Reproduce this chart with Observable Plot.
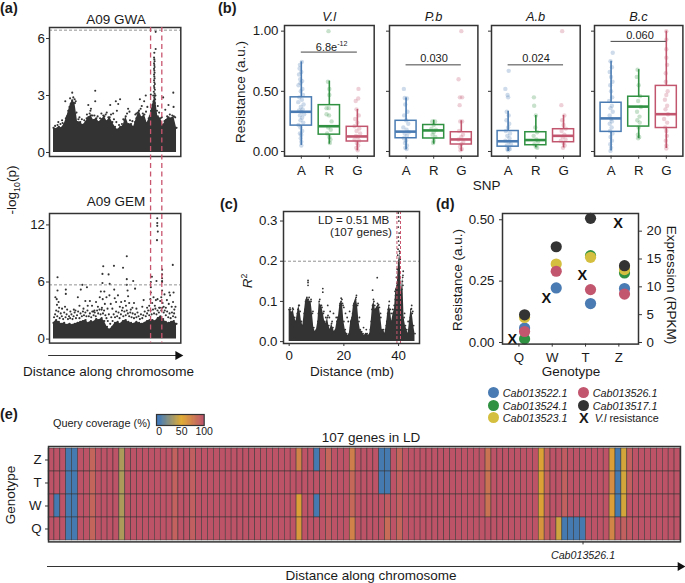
<!DOCTYPE html>
<html><head><meta charset="utf-8">
<script src="https://cdn.jsdelivr.net/npm/d3@7"></script>
<script src="https://cdn.jsdelivr.net/npm/@observablehq/plot@0.6"></script>
<style>
html,body{margin:0;background:#fff}
#root{position:relative;width:685px;height:583px;overflow:hidden;font-family:"Liberation Sans",Arial,sans-serif;color:#1a1a1a}
.t{position:absolute;white-space:nowrap;line-height:1}
sup{font-size:65%;line-height:0}
sub{font-size:65%;line-height:0}
</style></head><body><div id="root"></div>
<script>
// ---------- Panel (a): values ----------
const gwaPos=[0,1,2,3,4,5,6,7,8,9,10,11,12,13,14,15,16,17,18,19,20,21,22,23,24,25,26,27,28,29,30,31,32,33,34,35,36,37,38,39,40,41,42,43,44,45,46];
const gwaTop=[1.3,1.25,1.35,1.3,1.5,1.9,2.4,2.75,2.6,1.6,1.6,1.45,1.6,1.85,1.95,1.7,1.8,1.6,1.75,1.9,1.65,1.85,1.6,1.35,1.2,1.35,1.4,1.9,1.5,1.5,1.35,1.8,2.2,1.85,2.0,1.55,1.9,2.5,3.0,1.9,1.8,1.45,1.7,1.85,1.8,1.9,1.3];
const gemTop=[1.7,2.0,1.8,1.6,1.7,1.5,1.6,1.5,1.6,1.7,1.8,1.9,2.0,1.7,1.9,1.8,2.1,2.0,2.2,1.9,1.3,1.0,1.3,1.7,1.8,1.6,1.9,2.0,1.8,1.7,1.6,1.8,1.7,1.6,1.7,1.9,2.0,2.0,1.9,2.2,2.4,2.1,1.8,1.7,1.8,1.9,1.6];
const gwaPeaks=[[38.2,6.35],[38.2,5.45],[37.7,5.25],[37.6,5.0],[37.7,4.9],[37.8,4.8],[37.6,4.7],[37.7,4.6],[37.8,4.5],[37.6,4.4],[37.7,4.3],[37.8,4.2],[37.6,4.1],[37.7,4.0],[37.8,3.9],[37.6,3.8],[37.7,3.7],[37.9,3.6],[37.6,3.5],[37.7,3.4],[37.9,3.3],[37.5,3.2],[37.8,3.1],[38.1,3.0],[37.3,3.0],[37.7,2.9],[38.0,2.8],[37.4,2.7],[37.9,2.6],
[7,3.15],[15.6,3.25],[15.6,2.7],[4.4,2.7],[44.8,3.15],[41,2.9],[24.9,2.8],[23.3,2.7],[13,2.5],[14,2.3],[21.2,2.5],[24.2,2.55],[23.7,2.2],[34.5,3],[36.4,3.05],[32.3,2.8],[33.9,2.7],[33,2.45],[35.1,2.4],[39,2.45],[43,2.5],[44.9,2.4],[41.8,2.25],[13.8,2.2],[19.9,2.1],[27.9,2.3],[28.4,2.15],[12.5,2.0],[22.3,2.05],[30.6,2.0],[6.2,2.85],[7.4,2.9],[7.9,2.8],[8.3,2.7],[6.7,2.6],[3.2,1.7],[1.8,1.6],[9.7,1.85],[17.9,2.05],[26.1,1.75],[31,2.05],
[.6,1.4],[1.5,1.45],[2.6,1.5],[3.4,1.55],[4.6,1.8],[5.5,2.2],[6.4,2.55],[8.6,2.1],[9.3,1.75],[10.6,1.75],[11.5,1.7],[12.4,1.8],[13.5,2.05],[14.6,1.95],[15.3,1.95],[16.5,1.9],[17.4,1.8],[18.6,1.95],[19.5,2.0],[20.5,1.85],[21.5,2.0],[22.6,1.75],[23.5,1.6],[24.5,1.45],[25.6,1.5],[26.5,1.7],[27.5,2.05],[28.6,1.7],[29.5,1.65],[30.5,1.6],[31.5,2.1],[32.6,2.3],[33.4,2.05],[34.6,2.15],[35.6,1.8],[36.5,2.2],[38.7,2.2],[39.5,2.1],[40.5,1.85],[41.5,1.65],[42.5,1.9],[43.5,2.0],[44.4,1.95],[45.5,1.85]];
const gemPeaks=[[38.8,12.7],[38.8,12.2],[38.8,11.9],[39,11.3],[38.7,10.4],[27.4,8.7],[44.6,7.8],[22.6,7.7],[18.6,7.65],[26,7.5],[40.6,7.3],[18.3,6.85],[20.6,6.8],[1.5,6.5],[36.8,6.55],[40.6,6.8],[40.6,6.4],[27.4,6.3],[29.8,6.1],[38.5,6.1],[36.4,6],[40.6,6.1],[40.6,6],[18.3,5.9],[27.4,5.7],[10.8,5.7],[12.5,5.45],[21,5.8],[30.5,5.3],[36.4,5.45],[1.5,5.1],[4.6,5.2],[4.6,4.75],[10.2,5.2],[17.7,5],[19,5],[22.7,5.2],[27.7,5.1],[36.4,4.9],[40.6,5.1],[43.3,4.9],[44.9,4.9],
[0.7,4.4],[1.2,4.2],[1.9,3.9],[1.3,3.6],[2.1,3.3],[3.2,3.2],[4.3,3.4],[5.1,3.1],[7.6,3.1],[9.7,3.5],[9.1,4.4],[11.2,3.2],[11.9,4],[12.8,3.5],[13.6,4],[14.4,3.5],[15.3,3],[15.9,3.9],[16.6,3.4],[17.3,4.4],[18.1,3.3],[18.4,4.2],[19.2,3.7],[19.8,4.4],[20.2,3.2],[20.9,4.6],[21.4,3.7],[22,3.2],[22.9,4.3],[23.4,3.9],[24.1,4.6],[24.8,3.4],[25.3,3.9],[25.9,3.3],[26.7,4],[27.1,3.5],[27.9,4.5],[28.3,3.8],[28.9,3.1],[29.5,3.3],[30.1,3.8],[31,3.2],[33.2,3.4],[33.7,4.1],[35,3.3],[35.8,3.5],[36.2,4.2],[36.9,3.8],[37.4,4.4],[37.9,3.5],[38.3,4.1],[38.9,4.2],[39.5,3.3],[39.9,4],[40.3,4.4],[40.8,3.8],[41.2,3.4],[41.5,4.7],[42,3.3],[42.4,4.1],[43.1,3.7],[43.6,4.6],[44.2,3.4],[44.7,3.9],[45.2,3.1],[45.6,3.4],[8.2,3],[6.3,2.9],[14.9,2.9],
[.2,2.3],[.6,2.6],[1,3],[1.4,2.4],[1.8,2.9],[2.3,2.2],[2.7,2.7],[3.1,2.4],[3.6,2.1],[4,2.8],[4.5,2.3],[4.9,2.6],[5.4,2.1],[5.8,2.4],[6.2,2.2],[6.7,2.6],[7.1,2.1],[7.5,2.4],[7.9,2.8],[8.4,2.2],[8.8,2.5],[9.2,2.9],[9.7,2.2],[10.1,2.7],[10.6,2.4],[11,2.9],[11.4,2.5],[11.9,2.8],[12.3,2.4],[12.7,3],[13.2,2.4],[13.6,2.7],[14.1,2.3],[14.5,2.9],[15,2.5],[15.4,2.8],[15.8,2.4],[16.3,3],[16.7,2.7],[17.2,3.1],[17.6,2.6],[18,3.1],[18.5,2.7],[18.9,3],[19.4,2.5],[19.8,2.2],[20.3,1.9],[20.7,2.6],[21.2,1.6],[21.6,2.3],[22.1,1.9],[22.5,2.6],[23,2.3],[23.4,2.9],[23.8,2.4],[24.3,2.8],[24.7,2.2],[25.2,2.6],[25.6,3],[26.1,2.4],[26.5,2.9],[27,2.5],[27.4,3],[27.8,2.7],[28.3,2.4],[28.7,2.8],[29.2,2.3],[29.6,2.7],[30.1,2.2],[30.5,2.6],[31,2.3],[31.4,2.8],[31.8,2.4],[32.3,2.1],[32.7,2.6],[33.2,2.2],[33.6,2.5],[34.1,2.9],[34.5,2.4],[35,2.7],[35.4,3],[35.8,2.5],[36.3,3],[36.7,2.6],[37.2,3.1],[37.6,2.7],[38.1,3.2],[38.5,2.6],[38.9,3],[39.4,2.8],[39.8,3.3],[40.3,3],[40.7,3.3],[41.2,2.8],[41.6,3],[42,2.5],[42.5,2.9],[42.9,2.3],[43.4,2.7],[43.8,2.2],[44.3,2.8],[44.7,2.4],[45.1,2.7],[45.6,2.3]];
const threshGwa=[6.44], threshGem=[5.7], ldLinesA=[36.3,40.5];
// ---------- Panel (b) ----------
const fungi=["V.l","P.b","A.b","B.c"];
const snpPos=[1,2,3], snpLabels=["A","R","G"], snpColors=["#4a7bb2","#2f9141","#c2566f"];
const boxStats={ // [low whisker, q1, median, q3, high whisker]
 "V.l":[[.05,.215,.33,.45,.745],[.06,.14,.21,.385,.585],[.005,.083,.125,.205,.35]],
 "P.b":[[.015,.11,.165,.255,.445],[.06,.108,.175,.22,.26],[0,.058,.10,.16,.255]],
 "A.b":[[0,.04,.085,.17,.335],[.03,.052,.095,.16,.3],[.03,.077,.13,.185,.3]],
 "B.c":[[.005,.163,.275,.405,.75],[.108,.207,.373,.455,.68],[.025,.195,.31,.545,1.0]]};
const brackets={"V.l":.826,"P.b":.72,"A.b":.72,"B.c":.915};
const ptsVl=[
 [[.02,.745],[-.05,.72],[-.06,.69],[.0,.66],[-.08,.64],[-.04,.6],[.03,.585],[-.03,.57],[-.1,.55],[.04,.52],[-.02,.5],[.06,.47],[-.07,.45],[.02,.43],[-.11,.41],[.08,.39],[-.02,.37],[.05,.35],[-.08,.34],[.0,.33],[.1,.31],[-.05,.3],[.03,.28],[-.03,.26],[.07,.24],[-.1,.22],[-.03,.2],[.03,.17],[-.05,.15],[.0,.14],[-.02,.11],[.0,.08],[.0,.05]],
 [[-.03,1.0],[-.05,.58],[.0,.52],[.0,.47],[-.1,.36],[-.02,.36],[-.1,.31],[-.01,.3],[.08,.25],[-.04,.2],[.05,.18],[-.08,.15],[.0,.12],[.04,.1],[.02,.07]],
 [[.04,.52],[-.06,.42],[.03,.44],[-.03,.35],[.05,.3],[-.08,.27],[.0,.24],[-.1,.21],[.07,.19],[-.03,.17],[.1,.15],[-.05,.13],[.02,.12],[-.1,.1],[.06,.09],[-.02,.07],[.03,.05],[-.04,.03],[.01,.01]]];
const ptsPb=[
 [[-.08,.52],[-.05,.445],[.03,.44],[-.03,.39],[.05,.33],[-.07,.3],[.0,.26],[.08,.23],[-.1,.2],[.02,.18],[.1,.16],[-.05,.15],[.03,.13],[-.08,.11],[.0,.09],[-.04,.07],[.03,.05],[-.03,.03],[.02,.02]],
 [[-.05,.25],[.05,.25],[.0,.22],[-.08,.19],[.08,.18],[.0,.16],[-.04,.14],[.06,.12],[.0,.09],[-.02,.07]],
 [[.0,1.0],[-.1,.6],[-.05,.45],[.03,.45],[-.06,.385],[-.04,.25],[.03,.25],[-.08,.17],[.06,.14],[.0,.12],[-.1,.1],[.07,.08],[.0,.06],[-.05,.04],[.02,.02],[-.03,.01]]];
const ptsAb=[
 [[.02,.67],[-.1,.52],[-.02,.47],[.0,.45],[-.05,.33],[.02,.3],[-.06,.26],[.04,.23],[.0,.2],[-.08,.17],[.07,.15],[-.03,.13],[.05,.11],[-.1,.09],[.02,.08],[.1,.06],[-.05,.05],[.03,.03],[-.03,.02],[.0,.01],[.06,.02]],
 [[-.07,.45],[-.06,.38],[.0,.3],[-.02,.2],[.05,.16],[-.08,.13],[.02,.1],[.08,.08],[-.05,.06],[.0,.04],[.05,.03]],
 [[-.05,1.0],[-.08,.385],[.03,.3],[-.05,.26],[.0,.22],[.08,.19],[-.07,.17],[.03,.14],[-.03,.12],[.07,.1],[-.1,.09],[.0,.07],[.04,.05],[-.02,.03]]];
const ptsBc=[
 [[.06,.82],[-.02,.75],[.03,.7],[-.05,.66],[.0,.62],[.05,.58],[-.03,.55],[.0,.5],[.04,.45],[-.07,.42],[.03,.38],[-.02,.36],[.06,.33],[-.05,.3],[.0,.27],[.03,.25],[-.05,.23],[.02,.2],[-.04,.17],[.05,.15],[-.02,.12],[.03,.09],[-.03,.06],[.0,.03],[-.02,.005]],
 [[-.04,.68],[-.07,.62],[.0,.55],[.05,.46],[-.02,.42],[.08,.37],[-.06,.33],[.03,.29],[-.05,.26],[.04,.24],[.0,.2],[-.03,.14],[.02,.12],[-.02,.11]],
 [[.0,1.0],[.0,.93],[.0,.85],[.0,.78],[.03,.72],[-.02,.65],[-.02,.58],[.05,.5],[.0,.47],[-.05,.43],[.03,.38],[-.03,.35],[.06,.31],[-.08,.27],[.03,.24],[-.04,.2],[.0,.17],[.02,.13],[-.02,.09],[.0,.05],[.0,.025]]];
const pts={"V.l":ptsVl,"P.b":ptsPb,"A.b":ptsAb,"B.c":ptsBc};
// ---------- Panel (c) ----------
const ldPos=[0,.5,1,1.5,2,2.5,3,3.5,4,4.5,5,5.5,6,6.5,7,7.5,8,8.5,9,9.5,10,10.5,11,11.5,12,12.5,13,13.5,14,14.5,15,15.5,16,16.5,17,17.5,18,18.5,19,19.5,20,20.5,21,21.5,22,22.5,23,23.5,24,24.5,25,25.5,26,26.5,27,27.5,28,28.5,29,29.5,30,30.5,31,31.5,32,32.5,33,33.5,34,34.5,35,35.5,36,36.5,37,37.5,38,38.5,39,39.5,40,40.5,41,41.5,42,42.5,43,43.5,44,44.5,45,45.5,46];
const ldTop=[.08,.08,.07,.08,.06,.05,.07,.09,.075,.05,.04,.07,.1,.11,.105,.1,.1,.07,.035,.025,.03,.05,.10,.09,.085,.07,.05,.045,.06,.04,.03,.045,.035,.025,.03,.05,.06,.09,.10,.095,.05,.03,.02,.015,.02,.05,.06,.09,.1,.11,.09,.05,.03,.025,.02,.015,.02,.02,.015,.02,.05,.09,.10,.08,.085,.09,.085,.06,.03,.03,.02,.04,.07,.09,.08,.05,.07,.08,.13,.14,.2,.22,.12,.16,.06,.04,.03,.02,.05,.08,.07,.04,.02];
const ldPeaks=[[6.9,.152],[6.9,.147],[6.9,.14],[12.3,.132],[12.3,.123],[32.2,.159],[30.5,.128],[14.1,.09],[15,.075],[14.7,.06],[16.2,.07],[17.2,.06],[20,.085],[20.6,.07],[21.2,.06],[21.6,.05],[22.1,.075],[22.5,.035],[19.3,.105],[24.6,.115],[36.6,.1],[38.7,.125],[39.5,.18],[39.9,.32],[40,.31],[40.1,.30],[39.9,.285],[40.2,.27],[39.9,.26],[40,.25],[40.2,.24],[39.8,.23],[40.3,.225],[39.7,.215],[40.6,.205],[41.7,.175],[41.6,.165],[41.4,.15],[39.2,.16],[39.4,.145],[40.4,.15],[38.8,.105],[44.8,.09],[28.2,.03],[27.2,.035],[43.5,.05],
[.3,.084],[.8,.073],[1.3,.083],[3.2,.08],[3.7,.09],[5.8,.08],[6.3,.105],[7.3,.11],[8,.105],[8.7,.075],[10.7,.07],[11.2,.105],[11.8,.09],[12.7,.075],[13.4,.06],[14.2,.065],[15.7,.05],[17.7,.06],[18.6,.095],[19,.108],[19.7,.09],[23.2,.07],[23.7,.095],[24.3,.105],[25.2,.095],[25.7,.06],[29.7,.03],[30.3,.08],[30.8,.105],[31.3,.09],[32.3,.095],[32.7,.092],[33.4,.07],[35.7,.05],[36.2,.08],[37.3,.07],[37.9,.08],[38.4,.09],[38.9,.115],[41.2,.13],[41.6,.14],[42.2,.07],[44.3,.06],[44.7,.082],[45.2,.075]];
const ldThresh=[.2], ldLines=[39.4,40.7];
// ---------- Panel (d) ----------
const genotypes=["Q","W","T","Z"], genoPos=[1,2,3,4];
const rpkm={ // expression per genotype, Q W T Z
 "Cab013522.1":[2.6,9.8,7.0,9.7],
 "Cab013524.1":[0.65,null,15.6,12.5],
 "Cab013523.1":[4.5,14.1,15.3,13.1],
 "Cab013526.1":[1.98,12.8,9.5,8.7],
 "Cab013517.1":[4.97,17.2,22.3,13.8]};
const geneColors={"Cab013522.1":"#4a7bb2","Cab013524.1":"#2f9141","Cab013523.1":"#d5bf3f","Cab013526.1":"#c2566f","Cab013517.1":"#333333"};
const dotPos=[1.17,2.12,3.15,4.17];
const xPos=[.8,1.82,2.9,3.98], vlResistance=[.014,.18,.273,.484];
const exprTicks=[0,5,10,15,20], resTicks=[0,.25,.5];
const exprPerRes=44.1;
// ---------- Panel (e) ----------
const rows=["Z","T","W","Q"];
const geneCount=107, baseCoverage=98;
const exceptions=[ // gene number, Z, T, W, Q coverage
 [2,98,98,2,98],[4,2,2,2,2],[5,2,2,2,2],[8,88,88,88,88],[13,34,34,34,34],[22,90,90,90,90],[25,92,92,92,92],
 [43,72,98,56,60],[46,2,98,2,98],[48,87,93,93,93],[52,74,86,86,72],[57,2,2,98,98],[58,2,2,93,84],[60,88,92,92,88],
 [75,80,80,80,98],[84,55,55,55,62],[85,90,90,93,93],[87,98,98,98,44],[88,93,91,91,2],[89,98,98,98,2],[90,98,98,98,2],[91,98,98,98,2],
 [96,56,66,56,70],[97,2,2,2,98],[98,46,46,46,91],[99,91,91,98,95]];
const rampTicks=[0,50,100];
const rampStops=[0,50,100], rampColors=["#3f78b6","#e0aa30","#bb4f69"];

// ---------- helpers ----------
const root=document.getElementById("root");
const FONT='"Liberation Sans",Arial,sans-serif', INK="#1a1a1a", DARK="#333333", RED="#c9566f";
function label(html,x,y,o={}){
  const d=document.createElement("div");d.className="t";d.innerHTML=html;
  d.style.left=x+"px";d.style.top=y+"px";d.style.fontSize=(o.size||13.5)+"px";
  d.style.transform=`translate(${o.ax??-50}%,-50%)`+(o.rot?` rotate(${o.rot}deg)`:"");
  if(o.bold)d.style.fontWeight="bold"; if(o.italic)d.style.fontStyle="italic";
  root.append(d);return d;
}
function panel({box,x,y,marks,m={},size=13.3}){
  const [x0,y0,x1,y1]=box, l=m.l??34,r=m.r??4,t=m.t??4,b=m.b??24;
  const p=Plot.plot({width:x1-x0+l+r,height:y1-y0+t+b,marginLeft:l,marginRight:r,marginTop:t,marginBottom:b,
    x:{axis:null,...x},y:{axis:null,...y},marks,
    style:{fontFamily:FONT,fontSize:size+"px",background:"transparent",color:INK,overflow:"visible"}});
  p.style.position="absolute";p.style.left=(x0-l)+"px";p.style.top=(y0-t)+"px";root.append(p);return p;
}
const frame=(w=1.5)=>Plot.frame({stroke:DARK,strokeWidth:w});
const asPoints=(xs,ys)=>ys.map((v,i)=>({x:xs[i],y:v}));
const chrDomain=[-1.5,47.6];
const mass=(xs,ys,r=1.1)=>[
  Plot.areaY(asPoints(xs,ys),{x:"x",y1:0,y2:"y",fill:DARK}),
  Plot.dot(asPoints(xs,ys),{x:"x",y:"y",r,fill:DARK})];
const scatter=(d,r=1.05)=>Plot.dot(d,{x:d=>d[0],y:d=>d[1],r,fill:DARK});
const axY=(ticks,o={})=>Plot.axisY({ticks,tickSize:3,tickPadding:2,label:null,stroke:DARK,fontSize:13.3,tickFormat:d=>String(d),...o});
const axX=(ticks,o={})=>Plot.axisX({ticks,tickSize:3,tickPadding:5,label:null,stroke:DARK,fontSize:13.3,tickFormat:d=>String(d),...o});

// ---------- (a) ----------
panel({box:[48.7,26.7,180,155.7],x:{domain:chrDomain},y:{domain:[-.21,6.58]},marks:[
  ...mass(gwaPos,gwaTop),scatter(gwaPeaks),
  Plot.ruleY(threshGwa,{stroke:"#777",strokeDasharray:"3,2",strokeWidth:.8}),
  axY([0,3,6],{tickPadding:1.5}),frame()]});
panel({box:[48.7,212.7,180,342.3],x:{domain:chrDomain},y:{domain:[-.42,13.2]},marks:[
  ...mass(gwaPos,gemTop),scatter(gemPeaks),
  Plot.ruleY(threshGem,{stroke:"#777",strokeDasharray:"3,2",strokeWidth:.8}),
  axY([0,6,12],{tickPadding:1.5}),frame()]});
panel({box:[48.7,26.7,180,342.3],x:{domain:chrDomain},y:{domain:[0,1]},m:{l:0,r:0,t:0,b:0},marks:[
  Plot.ruleX(ldLinesA,{stroke:RED,strokeWidth:1.3,strokeDasharray:"5,3.5"})]});
label("A09 GWA",116,20);label("A09 GEM",116,202);
label("-log<sub>10</sub>(p)",12,190,{rot:-90});
const arrow=(x0,x1,y)=>{ // horizontal axis arrow
  panel({box:[x0,y-4,x1,y+4],x:{domain:[0,1]},y:{domain:[0,1]},m:{l:0,r:6,t:0,b:0},marks:[
    Plot.ruleY([.5],{x1:0,x2:1,stroke:DARK,strokeWidth:1.1}),
    Plot.dot([{x:.995,y:.5}],{x:"x",y:"y",symbol:"triangle",rotate:90,r:3.4,fill:"#111"})]});
};
arrow(47.7,178,355);
label("Distance along chromosome",108.5,372);

// ---------- (b) ----------
const boxFrames=[[284.3,374],[389.3,477.7],[491.3,580],[594.3,682.7]];
fungi.forEach((f,i)=>{
  const [x0,x1]=boxFrames[i];
  const points=pts[f].flatMap((g,k)=>g.map(p=>({x:snpPos[k]+p[0],y:p[1],k})));
  const stats=boxStats[f].map((s,k)=>({x:snpPos[k],low:s[0],q1:s[1],med:s[2],q3:s[3],high:s[4],k}));
  const col=d=>snpColors[d.k];
  panel({box:[x0,25.3,x1,156],x:{domain:[.4,3.6]},y:{domain:[-.039,1.047]},m:{l:i?8:34,r:2,t:2,b:26},marks:[
    Plot.dot(points,{x:"x",y:"y",r:2.2,fill:col,fillOpacity:.27}),
    Plot.ruleX(stats,{x:"x",y1:"low",y2:"q1",stroke:col,strokeWidth:1.6}),
    Plot.ruleX(stats,{x:"x",y1:"q3",y2:"high",stroke:col,strokeWidth:1.6}),
    Plot.rect(stats,{x1:d=>d.x-.38,x2:d=>d.x+.38,y1:"q1",y2:"q3",stroke:col,strokeWidth:1.5,fill:"none"}),
    Plot.ruleY(stats,{x1:d=>d.x-.38,x2:d=>d.x+.38,y:"med",stroke:col,strokeWidth:2.6}),
    Plot.ruleY([brackets[f]],{x1:1,x2:3,stroke:"#444",strokeWidth:1}),
    axX(snpPos,{tickFormat:v=>snpLabels[v-1],tickPadding:6}),
    axY([0,.5,1],{tickFormat:i?()=>"":(v=>v.toFixed(2)),tickPadding:3}),
    frame(1.5)]});
  label(f,(x0+x1)/2,17,{italic:true,size:12.8});
});
label("6.8e<sup>-12</sup>",331.7,47.3,{size:11});
label("0.030",434,57.5,{size:11});label("0.024",536,57.5,{size:11});label("0.060",640,34.7,{size:11});
label("Resistance (a.u.)",241,92,{rot:-90});
label("SNP",486.7,186);

// ---------- (c) ----------
panel({box:[283.3,211,419.3,343],x:{domain:[-2.07,47.65]},y:{domain:[-.0047,.3237]},m:{l:34,r:3,t:3,b:26},marks:[
  ...mass(ldPos,ldTop,.9),scatter(ldPeaks,.9),
  Plot.ruleY(ldThresh,{stroke:"#777",strokeDasharray:"3,2",strokeWidth:.8}),
  Plot.ruleX(ldLines,{stroke:RED,strokeWidth:1,strokeDasharray:"3,2"}),
  axX([0,20,40],{tickPadding:4.5}),
  axY([0,.1,.2,.3],{tickFormat:d=>d.toFixed(1),tickPadding:3}),
  frame()]});
label("LD = 0.51 MB",353.7,220.4,{size:11.6});
label("(107 genes)",361,232.4,{size:11.6});
label("<i>R</i><sup>2</sup>",248,281,{rot:-90});
label("Distance (mb)",352,372);

// ---------- (d) ----------
const exprRows=Object.entries(rpkm).flatMap(([g,vals])=>vals.map((v,i)=>({gene:g,x:dotPos[i],v})).filter(d=>d.v!=null));
panel({box:[502.3,212.7,638.3,343.3],x:{domain:[.507,4.59]},y:{domain:[-.0065,.5255]},m:{l:34,r:24,t:3,b:20},marks:[
  Plot.dot(exprRows,{x:"x",y:d=>d.v/exprPerRes,r:5.6,fill:d=>geneColors[d.gene],clip:false}),
  Plot.text(vlResistance.map((v,i)=>({x:xPos[i],v})),{x:"x",y:"v",text:()=>"X",fontWeight:"bold",fontSize:14.5,fill:"#111"}),
  axX(genoPos,{tickFormat:v=>genotypes[v-1]}),
  axY(resTicks,{tickFormat:v=>v.toFixed(2),tickPadding:5}),
  axY(exprTicks.map(v=>v/exprPerRes),{anchor:"right",tickFormat:v=>String(Math.round(v*exprPerRes)),tickPadding:5}),
  frame(1.5)]});
label("Resistance (a.u.)",458,280,{rot:-90});
label("Expression (RPKM)",671,285,{rot:90});
label("Genotype",571,372);
const legendItems=[["Cab013522.1",493.3,392.3],["Cab013524.1",493.3,405],["Cab013523.1",493.3,417],["Cab013526.1",583.3,392.3],["Cab013517.1",583.3,405]];
legendItems.forEach(([g,x,y])=>{
  const s=document.createElement("div");s.style.cssText=`position:absolute;left:${x-5.5}px;top:${y-5.5}px;width:11px;height:11px;border-radius:50%;background:${geneColors[g]}`;root.append(s);
  label(g,x+9.4,y+.5,{ax:0,italic:true,size:10.8});
});
label("X",583.8,418,{bold:true,size:14.5});
label("<i>V.l</i> resistance",594.7,418,{ax:0,size:10.8});

// ---------- (e) ----------
const genes=d3.range(1,geneCount+1);
const excByGene=new Map(exceptions.map(e=>[e[0],e.slice(1)]));
const cells=genes.flatMap(g=>rows.map((r,i)=>({g,r,v:excByGene.has(g)?excByGene.get(g)[i]:baseCoverage})));
const ramp=d3.scaleLinear().domain(rampStops).range(rampColors);
panel({box:[48,446.3,680,541.7],x:{type:"band",domain:genes,padding:0},y:{type:"band",domain:rows,padding:0},m:{l:30,r:2,t:1,b:22},marks:[
  Plot.cell(cells,{x:"g",y:"r",fill:d=>ramp(d.v),stroke:"#333",strokeWidth:.5}),
  axX([91],{tickFormat:()=>"Cab013526.1",tickPadding:6.5,fontStyle:"italic",fontSize:10.7}),
  axY(rows,{tickPadding:4}),
  frame(1.5)]});
label("107 genes in LD",371,437.7);
label("Genotype",11,495,{rot:-90});
label("Query coverage (%)",53,423,{ax:0,size:10.9});
const rampVals=d3.range(-6,100,1);
panel({box:[156,414.3,203.7,425.3],x:{domain:[-6,100]},y:{domain:[0,1]},m:{l:6,r:8,t:1,b:14},marks:[
  Plot.rect(rampVals,{x1:d=>d,x2:d=>d+2,y1:0,y2:1,fill:d=>ramp(Math.max(0,d))}),
  Plot.axisX({ticks:rampTicks,tickSize:0,tickPadding:2,label:null,fontSize:10.5,tickFormat:d=>String(d)}),
  frame(1.2)]});
arrow(47,683,566);
label("Distance along chromosome",371,576);

// panel letters
label("(a)",0,8,{ax:0,bold:true,size:14.5});label("(b)",218,8,{ax:0,bold:true,size:14.5});
label("(c)",220,204,{ax:0,bold:true,size:14.5});label("(d)",436,204,{ax:0,bold:true,size:14.5});
label("(e)",0,414,{ax:0,bold:true,size:14.5});
</script></body></html>
